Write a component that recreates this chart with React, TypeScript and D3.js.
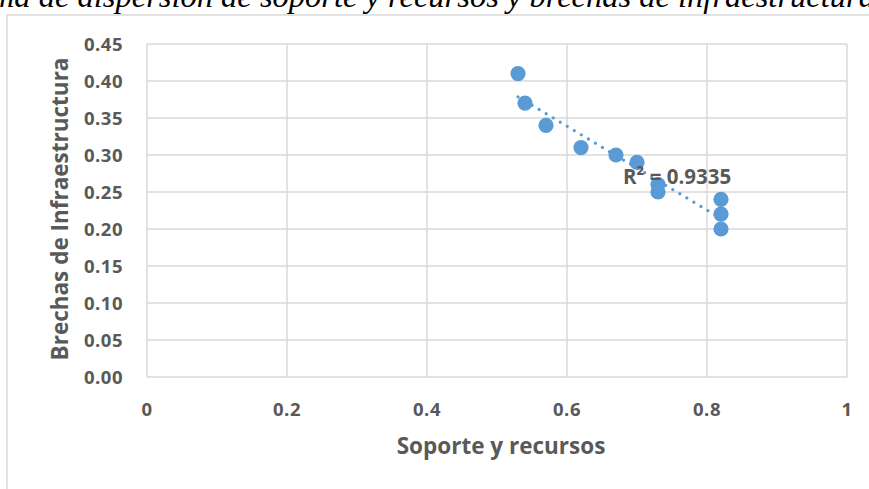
import React from "react";
import * as d3 from "d3";

// Soporte y recursos (x) vs. Brechas de Infraestructura (y)
const soporte = [0.53, 0.54, 0.57, 0.62, 0.67, 0.70, 0.73, 0.73, 0.82, 0.82, 0.82];
const brechas = [0.41, 0.37, 0.34, 0.31, 0.30, 0.29, 0.26, 0.25, 0.24, 0.22, 0.20];

const xTicks = [0, 0.2, 0.4, 0.6, 0.8, 1];
const yTicks = [0, 0.05, 0.1, 0.15, 0.2, 0.25, 0.3, 0.35, 0.4, 0.45];

const titleText = "Diagrama de dispersión de soporte y recursos y brechas de infraestructura";
const xTitle = "Soporte y recursos";
const yTitle = "Brechas de Infraestructura";
const r2Label = "R² = 0.9335";

const W = 869;
const H = 489;
const plot = { left: 147, right: 847, top: 44, bottom: 377 };

const GRID = "#d9d9d9";
const TEXT = "#595959";
const BLUE = "#5b9bd5";
const SANS = "'Open Sans', 'Noto Sans', sans-serif";

// least-squares linear trend
function linearFit(xs: number[], ys: number[]) {
  const mx = d3.mean(xs) as number;
  const my = d3.mean(ys) as number;
  let sxy = 0;
  let sxx = 0;
  xs.forEach((x, i) => {
    sxy += (x - mx) * (ys[i] - my);
    sxx += (x - mx) * (x - mx);
  });
  const slope = sxy / sxx;
  const intercept = my - slope * mx;
  return (x: number) => intercept + slope * x;
}

export default function App() {
  const x = d3.scaleLinear().domain([0, 1]).range([plot.left, plot.right]);
  const y = d3.scaleLinear().domain([0, 0.45]).range([plot.bottom, plot.top]);

  const fit = linearFit(soporte, brechas);
  const [xMin, xMax] = d3.extent(soporte) as [number, number];
  const trend = d3.line<number>().x((d) => x(d)).y((d) => y(fit(d)))([xMin, xMax]) ?? "";

  const fmtY = d3.format(".2f");
  const fmtX = (v: number) => (v === 0 || v === 1 ? String(v) : d3.format(".1f")(v));

  return (
    <svg
      width={W}
      height={H}
      viewBox={`0 0 ${W} ${H}`}
      style={{ position: "absolute", left: 0, top: 0, background: "#fff" }}
    >
      <text
        x={-103}
        y={7}
        fontFamily="'Liberation Serif', 'Times New Roman', serif"
        fontStyle="italic"
        fontSize={32.5}
        fill="#000"
      >
        {titleText}
      </text>

      {/* chart frame */}
      <rect x={7} y={15} width={W} height={H} fill="#fff" stroke={GRID} strokeWidth={1.5} />

      {/* gridlines */}
      {yTicks.map((t) => (
        <line key={`gy${t}`} x1={plot.left} x2={plot.right} y1={y(t)} y2={y(t)} stroke={GRID} strokeWidth={1.5} />
      ))}
      {xTicks.map((t) => (
        <line key={`gx${t}`} x1={x(t)} x2={x(t)} y1={plot.top} y2={plot.bottom} stroke={GRID} strokeWidth={1.5} />
      ))}

      {/* y tick labels */}
      {yTicks.map((t) => (
        <text
          key={`ly${t}`}
          x={123}
          y={y(t) + 6.5}
          textAnchor="end"
          fontFamily={SANS}
          fontWeight={700}
          fontSize={18.5}
          letterSpacing={0.5}
          fill={TEXT}
        >
          {fmtY(t)}
        </text>
      ))}

      {/* x tick labels */}
      {xTicks.map((t) => (
        <text
          key={`lx${t}`}
          x={x(t)}
          y={416}
          textAnchor="middle"
          fontFamily={SANS}
          fontWeight={700}
          fontSize={18.5}
          letterSpacing={0.5}
          fill={TEXT}
        >
          {fmtX(t)}
        </text>
      ))}

      {/* axis titles */}
      <text
        x={(plot.left + plot.right) / 2 + 4}
        y={454}
        textAnchor="middle"
        fontFamily={SANS}
        fontWeight={700}
        fontSize={22.5}
        fill={TEXT}
      >
        {xTitle}
      </text>
      <text
        transform={`translate(68, 209) rotate(-90)`}
        textAnchor="middle"
        fontFamily={SANS}
        fontWeight={700}
        fontSize={22.5}
        fill={TEXT}
      >
        {yTitle}
      </text>

      {/* trendline */}
      <path
        d={trend}
        fill="none"
        stroke={BLUE}
        strokeWidth={3.3}
        strokeLinecap="round"
        strokeDasharray="0 8.2"
      />

      {/* points */}
      {soporte.map((v, i) => (
        <circle key={`p${i}`} cx={x(v)} cy={y(brechas[i])} r={7.6} fill={BLUE} />
      ))}

      <text x={623} y={184} fontFamily={SANS} fontWeight={700} fontSize={20.5} fill={TEXT}>
        {r2Label}
      </text>
    </svg>
  );
}
